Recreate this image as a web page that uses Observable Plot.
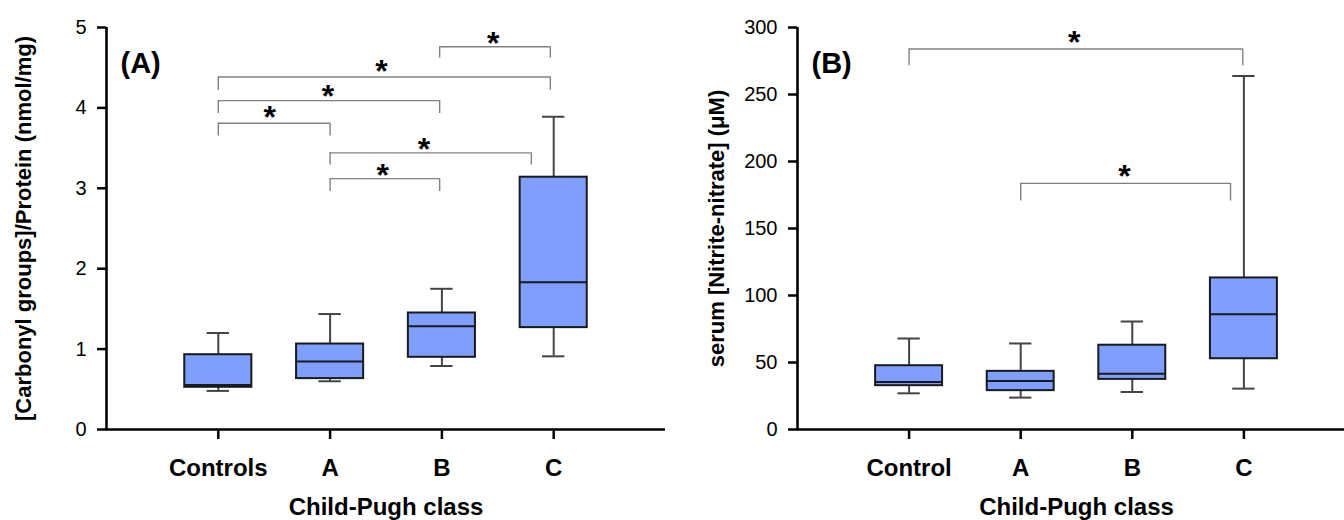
<!DOCTYPE html>
<html><head><meta charset="utf-8">
<script src="https://cdn.jsdelivr.net/npm/d3@7"></script>
<script src="https://cdn.jsdelivr.net/npm/@observablehq/plot@0.6"></script>
<style>
body{margin:0;background:#fff;}
#wrap{display:flex;width:1344px;height:520px;overflow:hidden;}
#wrap svg{display:block;}
</style></head><body><div id="wrap"></div>
<script>
// ---------- Panel A: carbonyl groups ----------
const groupsA = ["Controls", "A", "B", "C"];
const minA = [0.48, 0.60, 0.79, 0.91];
const q1A  = [0.525, 0.633, 0.898, 1.267];
const medA = [0.554, 0.845, 1.283, 1.83];
const q3A  = [0.93, 1.063, 1.449, 3.138];
const maxA = [1.20, 1.436, 1.75, 3.89];
const yTicksA = [0, 1, 2, 3, 4, 5];
const yLabelA = "[Carbonyl groups]/Protein (nmol/mg)";
const panelLabelA = "(A)";

// significance brackets A (positions on the class axis, heights in data units)
const brFromA = [1, 2, 2, 1, 1, 2.98];
const brToA   = [2, 2.98, 3.8, 2.98, 3.97, 3.97];
const brBarA  = [3.81, 3.12, 3.44, 4.09, 4.385, 4.76];
const brLegA  = [3.65, 2.96, 3.29, 3.93, 4.22, 4.62];
const starXA  = [1.46, 2.47, 2.84, 1.98, 2.46, 3.46];
const starYA  = [3.93, 3.205, 3.528, 4.19, 4.50, 4.846];

// ---------- Panel B: nitrite-nitrate ----------
const groupsB = ["Control", "A", "B", "C"];
const minB = [27.0, 23.8, 28.0, 30.5];
const q1B  = [32.7, 29.0, 37.4, 52.8];
const medB = [35.4, 36.2, 41.6, 86.0];
const q3B  = [47.6, 43.4, 62.9, 113.1];
const maxB = [67.9, 64.2, 80.6, 263.8];
const yTicksB = [0, 50, 100, 150, 200, 250, 300];
const yLabelB = "serum [Nitrite-nitrate] (\u03BCM)";
const panelLabelB = "(B)";

const brFromB = [1, 2];
const brToB   = [3.99, 3.88];
const brBarB  = [283.9, 183.7];
const brLegB  = [271.5, 170.5];
const starXB  = [2.48, 2.93];
const starYB  = [291.6, 191.4];

const xTitle = "Child-Pugh class";

const FONT = "'Liberation Sans', Arial, Helvetica, sans-serif";

function panel(o) {
  const rows = o.groups.map((g, i) => ({pos: i + 1, min: o.min[i], q1: o.q1[i], med: o.med[i], q3: o.q3[i], max: o.max[i]}));
  const br = o.brFrom.map((f, i) => ({from: f, to: o.brTo[i], bar: o.brBar[i], leg: o.brLeg[i], sx: o.starX[i], sy: o.starY[i]}));
  const boxStroke = "#1a1a1a", whisk = "#444";
  return Plot.plot({
    width: 672, height: 520,
    marginLeft: o.marginLeft, marginRight: o.marginRight, marginTop: 27, marginBottom: 91,
    style: {fontFamily: FONT, color: "#000", background: "#fff", overflow: "visible"},
    x: {type: "linear", domain: o.xDomain},
    y: {domain: o.yDomain},
    marks: [
      // brackets
      Plot.ruleY(br, {y: "bar", x1: "from", x2: "to", stroke: "#808080", strokeWidth: 1.4}),
      Plot.ruleX(br, {x: "from", y1: "leg", y2: "bar", stroke: "#808080", strokeWidth: 1.4}),
      Plot.ruleX(br, {x: "to", y1: "leg", y2: "bar", stroke: "#808080", strokeWidth: 1.4}),
      Plot.text(br, {x: "sx", y: "sy", text: () => "*", fontSize: 32, fontWeight: "bold", dy: 4, fill: "#000"}),
      // whiskers
      Plot.ruleX(rows, {x: "pos", y1: "q3", y2: "max", stroke: whisk, strokeWidth: 2}),
      Plot.ruleX(rows, {x: "pos", y1: "min", y2: "q1", stroke: whisk, strokeWidth: 2}),
      Plot.ruleY(rows, {y: "max", x1: d => d.pos - 0.1, x2: d => d.pos + 0.1, stroke: whisk, strokeWidth: 2}),
      Plot.ruleY(rows, {y: "min", x1: d => d.pos - 0.1, x2: d => d.pos + 0.1, stroke: whisk, strokeWidth: 2}),
      // boxes
      Plot.rect(rows, {x1: d => d.pos - 0.3, x2: d => d.pos + 0.3, y1: "q1", y2: "q3", fill: "#7f9fff", stroke: boxStroke, strokeWidth: 2}),
      Plot.ruleY(rows, {y: "med", x1: d => d.pos - 0.3, x2: d => d.pos + 0.3, stroke: boxStroke, strokeWidth: 2}),
      // axes
      Plot.axisY({ticks: o.yTicks, tickFormat: d => String(d), tickSize: 9, tickPadding: 11, fontSize: 20, strokeWidth: 2.5, label: null}),
      Plot.axisX({ticks: [1, 2, 3, 4], tickFormat: d => o.groups[d - 1], tickSize: 10, tickPadding: 19, fontSize: 24, fontWeight: "bold", strokeWidth: 2.5, label: null}),
      Plot.ruleX([o.xDomain[0]], {stroke: "#000", strokeWidth: 2.6}),
      Plot.ruleY([o.yDomain[0]], {stroke: "#000", strokeWidth: 2.6}),
      // labels
      Plot.text([o.yLabel], {frameAnchor: "left", textAnchor: "middle", rotate: -90, dx: o.yLabelDx, fontSize: 22, fontWeight: "bold", fill: "#000"}),
      Plot.text([xTitle], {x: () => 2.5, frameAnchor: "bottom", lineAnchor: "bottom", dy: 85, fontSize: 24, fontWeight: "bold", fill: "#000"}),
      Plot.text([o.panelLabel], {frameAnchor: "top-left", textAnchor: "start", lineAnchor: "bottom", dx: 14, dy: 45, fontSize: 29, fontWeight: "bold", fill: "#000"})
    ]
  });
}

const wrap = document.getElementById("wrap");
wrap.appendChild(panel({
  groups: groupsA, min: minA, q1: q1A, med: medA, q3: q3A, max: maxA,
  brFrom: brFromA, brTo: brToA, brBar: brBarA, brLeg: brLegA, starX: starXA, starY: starYA,
  yTicks: yTicksA, yLabel: yLabelA, panelLabel: panelLabelA,
  marginLeft: 106, marginRight: 7, xDomain: [0, 5], yDomain: [0, 5], yLabelDx: -83
}));
wrap.appendChild(panel({
  groups: groupsB, min: minB, q1: q1B, med: medB, q3: q3B, max: maxB,
  brFrom: brFromB, brTo: brToB, brBar: brBarB, brLeg: brLegB, starX: starXB, starY: starYB,
  yTicks: yTicksB, yLabel: yLabelB, panelLabel: panelLabelB,
  marginLeft: 125, marginRight: 0, xDomain: [0, 547 / 111.6], yDomain: [0, 300], yLabelDx: -81
}));
</script></body></html>
